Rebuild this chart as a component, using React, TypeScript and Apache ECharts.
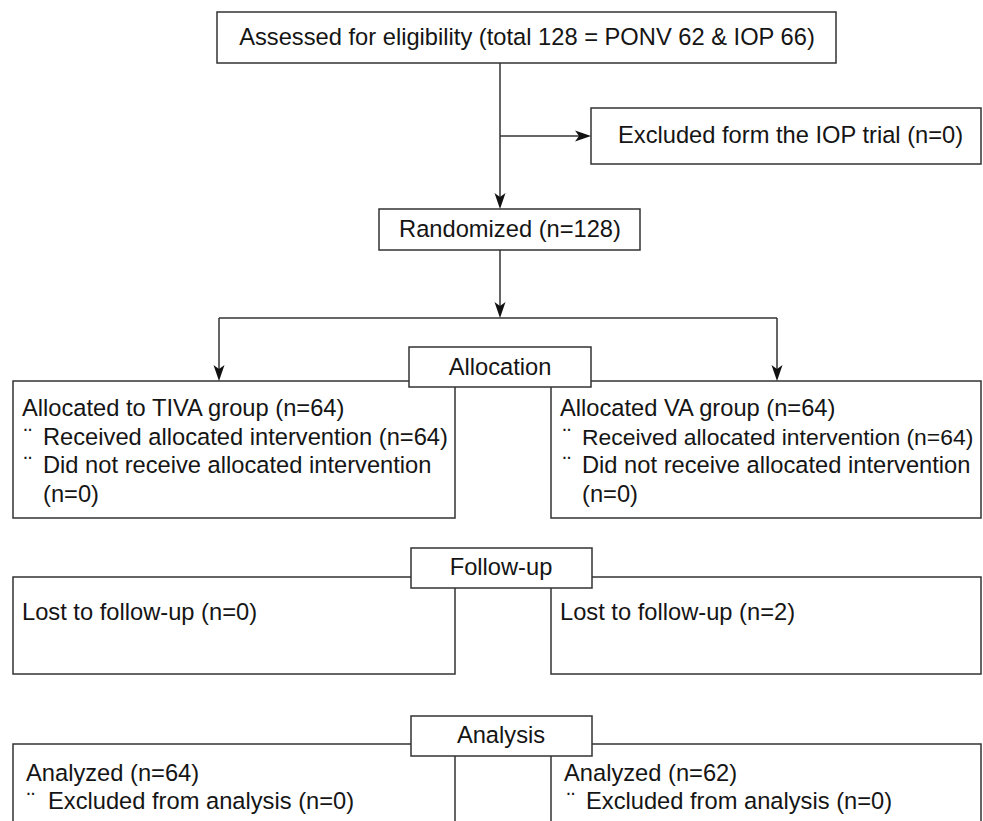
import React, { useEffect, useRef } from "react";
import * as echarts from "echarts";

// ---- data ----
const assessedTotal = 128;
const assessedPONV = 62;
const assessedIOP = 66;
const excludedIOPTrial = 0;
const randomizedN = 128;
const stageLabels = ["Allocation", "Follow-up", "Analysis"];
const allocatedLabels = ["Allocated to TIVA group", "Allocated VA group"];
const allocatedN = [64, 64];
const receivedN = [64, 64];
const notReceivedN = [0, 0];
const lostN = [0, 2];
const analyzedN = [64, 62];
const excludedAnalysisN = [0, 0];

const FONT = "'Liberation Sans', Arial, Helvetica, sans-serif";
const FS = 23.7;
const STROKE = "#333333";
const LW = 1.5;
const BULLET = "\u00A8";

function rect(x: number, y: number, w: number, h: number, z = 1) {
  return {
    type: "rect",
    z,
    shape: { x, y, width: w, height: h },
    style: { fill: "#ffffff", stroke: STROKE, lineWidth: LW },
  };
}
function line(x1: number, y1: number, x2: number, y2: number, z = 2) {
  return {
    type: "line",
    z,
    shape: { x1, y1, x2, y2 },
    style: { stroke: STROKE, lineWidth: LW },
  };
}
function arrowHead(x: number, y: number, dir: "down" | "right") {
  const L = 16;
  const H = 5.5;
  const N = 12;
  const pts =
    dir === "down"
      ? [
          [x, y],
          [x - H, y - L],
          [x, y - N],
          [x + H, y - L],
        ]
      : [
          [x, y],
          [x - L, y - H],
          [x - N, y],
          [x - L, y + H],
        ];
  return { type: "polygon", z: 5, shape: { points: pts }, style: { fill: "#111111" } };
}
function text(
  s: string,
  x: number,
  y: number,
  align: "left" | "center" = "left",
  fs = FS,
  z = 10
) {
  return {
    type: "text",
    z,
    style: {
      text: s,
      x,
      y,
      fill: "#151515",
      font: `${fs}px ${FONT}`,
      textAlign: align,
      textVerticalAlign: "middle",
    },
  };
}

export default function App() {
  const ref = useRef<HTMLDivElement>(null);
  useEffect(() => {
    if (!ref.current) return;
    const chart = echarts.init(ref.current, null, { renderer: "svg" });

    const els: any[] = [];
    // Top box
    els.push(rect(217, 12, 619, 51));
    els.push(
      text(
        `Assessed for eligibility (total ${assessedTotal} = PONV ${assessedPONV} & IOP ${assessedIOP})`,
        527,
        37,
        "center"
      )
    );
    // main vertical line to randomized
    els.push(line(500, 63, 500, 205));
    els.push(arrowHead(500, 209, "down"));
    // exclusion arrow
    els.push(line(500, 136, 587, 136));
    els.push(arrowHead(591, 136, "right"));
    els.push(rect(591, 108, 390, 56));
    els.push(text(`Excluded form the IOP trial (n=${excludedIOPTrial})`, 618, 135));
    // Randomized
    els.push(rect(379, 209, 261, 41));
    els.push(text(`Randomized (n=${randomizedN})`, 510, 229, "center"));
    // split
    els.push(line(500, 250, 500, 314));
    els.push(arrowHead(500, 318, "down"));
    els.push(line(219, 318, 777, 318));
    els.push(line(219, 318, 219, 377));
    els.push(arrowHead(219, 381, "down"));
    els.push(line(777, 318, 777, 377));
    els.push(arrowHead(777, 381, "down"));

    // Allocation boxes
    els.push(rect(13, 381, 442, 137));
    els.push(rect(551, 381, 430, 137));
    els.push(rect(409, 347, 182, 40, 3));
    els.push(text(stageLabels[0], 500, 367, "center"));
    const allocX = [22, 560];
    const bulX = [24, 563];
    const itemX = [43, 582];
    const receivedFS = [FS, 22.9];
    const allocY = [408, 437, 465, 494];
    for (let i = 0; i < 2; i++) {
      els.push(text(`${allocatedLabels[i]} (n=${allocatedN[i]})`, allocX[i], allocY[0]));
      els.push(text(BULLET, bulX[i], allocY[1]));
      els.push(
        text(
          `Received allocated intervention (n=${receivedN[i]})`,
          itemX[i],
          allocY[1],
          "left",
          receivedFS[i]
        )
      );
      els.push(text(BULLET, bulX[i], allocY[2]));
      els.push(text("Did not receive allocated intervention", itemX[i], allocY[2]));
      els.push(text(`(n=${notReceivedN[i]})`, itemX[i], allocY[3]));
    }

    // Follow-up
    els.push(rect(13, 577, 442, 97));
    els.push(rect(551, 577, 430, 97));
    els.push(rect(411, 548, 181, 40, 3));
    els.push(text(stageLabels[1], 501, 567, "center"));
    for (let i = 0; i < 2; i++) {
      els.push(text(`Lost to follow-up (n=${lostN[i]})`, allocX[i], 612));
    }

    // Analysis
    els.push(rect(13, 744, 442, 120));
    els.push(rect(551, 744, 430, 120));
    els.push(rect(411, 716, 181, 40, 3));
    els.push(text(stageLabels[2], 501, 735, "center"));
    const anX = [26, 564];
    const anBul = [27, 567];
    const anItem = [48, 586];
    for (let i = 0; i < 2; i++) {
      els.push(text(`Analyzed (n=${analyzedN[i]})`, anX[i], 773));
      els.push(text(BULLET, anBul[i], 801));
      els.push(text(`Excluded from analysis (n=${excludedAnalysisN[i]})`, anItem[i], 801));
    }

    chart.setOption({
      animation: false,
      backgroundColor: "#ffffff",
      graphic: { elements: els },
    });
    return () => chart.dispose();
  }, []);
  return (
    <div
      ref={ref}
      style={{ position: "fixed", left: 0, top: 0, width: 983, height: 821, background: "#fff" }}
    />
  );
}
